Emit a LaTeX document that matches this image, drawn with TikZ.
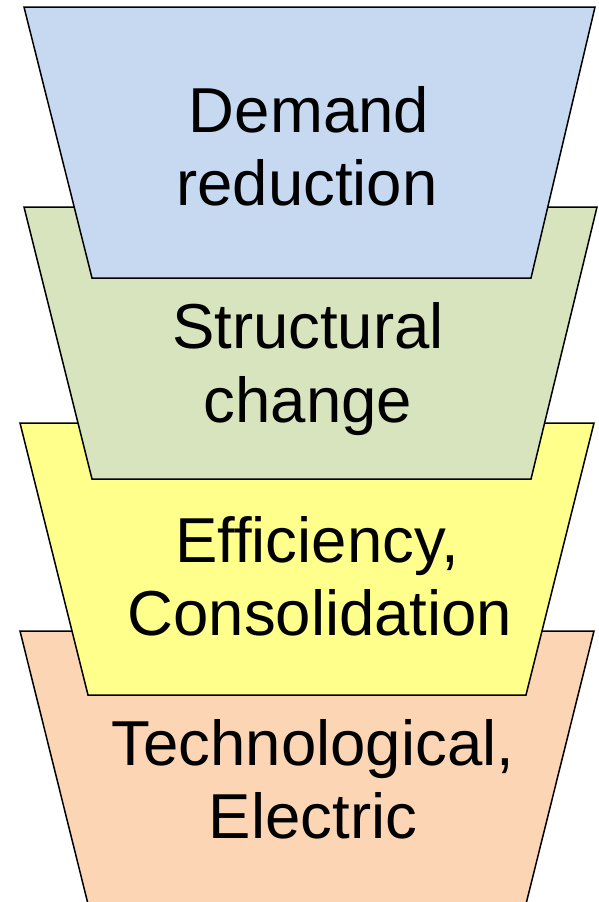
\documentclass[tikz,border=0pt]{standalone}
\usepackage{fontspec}
\setmainfont{Liberation Sans}
\usetikzlibrary{calc}

\definecolor{demandblue}{HTML}{C6D9F1}
\definecolor{structgreen}{HTML}{D7E4BD}
\definecolor{effyellow}{HTML}{FFFF8B}
\definecolor{techorange}{HTML}{FCD5B5}

\begin{document}
\begin{tikzpicture}[x=1pt,y=-1pt,
        layer/.style={draw=black, line width=1.5pt, line join=miter},
        word/.style={font=\fontsize{63.5}{72}\selectfont, anchor=base, inner sep=0pt}]
        \useasboundingbox (0,0) rectangle (598,902);

        % lowest layer first, each next one lies over it
        \draw[layer, fill=techorange] (20,631) -- (594,631) -- (526,904) -- (88,904) -- cycle;
        \draw[layer, fill=effyellow] (20,423) -- (594,423) -- (526,695) -- (88,695) -- cycle;
        \draw[layer, fill=structgreen] (24,207) -- (597,207) -- (531,479) -- (92,479) -- cycle;
        \draw[layer, fill=demandblue] (24,7) -- (595,7) -- (531,278) -- (92,278) -- cycle;

        \node[word] (demand) at (309,132) {Demand};
        \node[word] (reduction) at (307,205) {reduction};
        \node[word] (structural) at (308,348) {Structural};
        \node[word] (change) at (308,422) {change};
        \node[word] (efficiency) at (317,562) {Efficiency,};
        \node[word] (consolidation) at (320,635) {Consolidation};
        \node[word] (technological) at (313,765) {Technological,};
        \node[word] (electric) at (313,838) {Electric};
    \end{tikzpicture}
\end{document}
